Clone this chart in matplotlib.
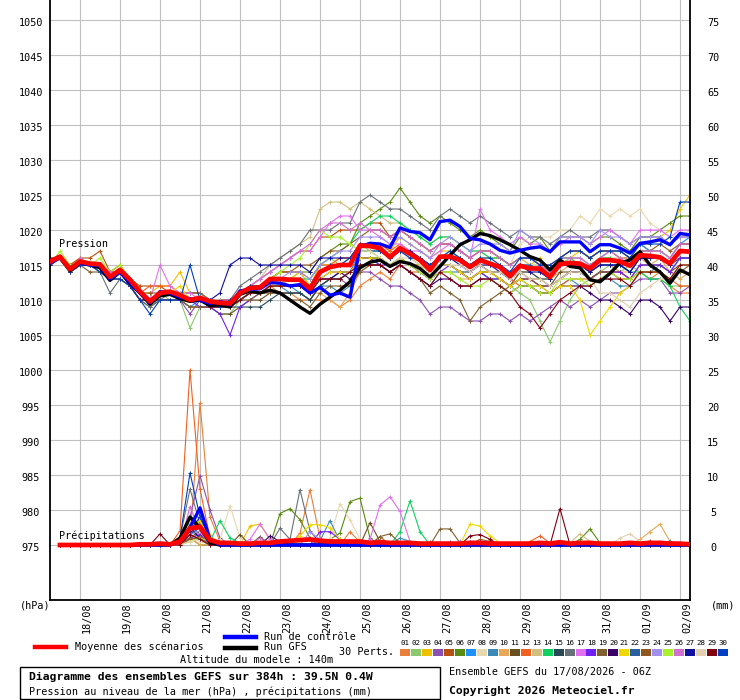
import matplotlib
matplotlib.use('Agg')
import matplotlib.pyplot as plt
import matplotlib.transforms as mtransforms
from matplotlib.lines import Line2D
from matplotlib.patches import Rectangle

plt.rcParams['font.family'] = ['DejaVu Sans Mono']

# forecast steps (hours from 17/08 06Z), 6-hourly up to 384h
hours = list(range(0, 385, 6))
day_hours = list(range(18, 385, 24))
day_labels = ['18/08', '19/08', '20/08', '21/08', '22/08', '23/08', '24/08', '25/08',
              '26/08', '27/08', '28/08', '29/08', '30/08', '31/08', '01/09', '02/09']
p_levels = list(range(975, 1051, 5))
mm_labels = [str(v) for v in range(0, 76, 5)]

# ensemble mean, control run and GFS run (sea level pressure, hPa)
mean_p = [1015.5, 1016.2, 1014.4, 1015.5, 1015.2, 1015.1, 1013.3, 1014.3, 1012.9,
          1011.2, 1009.8, 1011.0, 1011.2, 1010.7, 1010.0, 1010.3, 1009.8, 1009.6, 1009.5, 1011.0, 1011.7, 1011.8,
          1013.0, 1013.0, 1012.9, 1012.9, 1011.6, 1014.0, 1014.7, 1015.0, 1015.0,
          1017.8, 1017.7, 1017.4, 1016.1, 1017.4, 1016.6, 1015.7, 1014.3, 1016.2, 1016.2,
          1015.7, 1014.7, 1015.7, 1015.2, 1014.7, 1013.4, 1014.9, 1014.5, 1014.5, 1013.3,
          1015.1, 1015.3, 1015.2, 1014.5, 1015.7, 1015.7, 1015.5, 1014.9, 1016.4, 1016.3,
          1016.1, 1015.2, 1017.0, 1016.9]
ctrl_p = [1015.3, 1016.0, 1014.6, 1015.3, 1015.0, 1014.9, 1013.0, 1014.0, 1012.5,
          1011.0, 1009.6, 1011.2, 1011.0, 1010.4, 1010.2, 1010.0, 1009.5, 1009.8, 1009.3, 1011.3, 1011.5, 1011.6,
          1012.5, 1012.4, 1012.0, 1012.2, 1011.0, 1011.8, 1010.7, 1011.0, 1010.4,
          1017.6, 1018.1, 1018.0, 1017.5, 1020.3, 1019.8, 1019.6, 1018.6, 1021.2, 1021.4,
          1020.5, 1018.8, 1018.6, 1018.0, 1017.1, 1016.7, 1017.1, 1017.4, 1017.6, 1016.9,
          1018.3, 1018.3, 1018.3, 1016.9, 1017.9, 1017.9, 1017.4, 1016.7, 1018.1, 1018.3,
          1018.6, 1017.9, 1019.5, 1019.3]
gfs_p = [1015.6, 1016.0, 1014.2, 1015.3, 1015.0, 1014.6, 1012.8, 1014.0, 1012.4,
         1011.0, 1009.4, 1010.6, 1010.8, 1010.2, 1009.8, 1010.0, 1009.2, 1009.3, 1009.0, 1010.8, 1011.3, 1011.0,
         1011.4, 1011.0, 1010.0, 1009.0, 1008.1, 1009.4, 1010.4, 1011.4, 1012.6,
         1014.6, 1015.4, 1015.7, 1014.8, 1015.5, 1015.2, 1014.5, 1013.3, 1014.8, 1016.4,
         1017.9, 1018.6, 1019.5, 1019.2, 1018.6, 1017.9, 1017.1, 1016.2, 1015.7, 1014.3,
         1015.7, 1014.8, 1014.6, 1012.9, 1012.6, 1013.8, 1015.3, 1015.7, 1016.9, 1015.0,
         1014.0, 1012.4, 1014.3, 1013.6]

# 30 perturbations (hPa)
pres01 = [1015, 1016, 1014, 1015, 1015, 1015, 1013, 1014, 1013,
          1011, 1010, 1011, 1011, 1010, 1010, 1010, 1009, 1009, 1009, 1010, 1011, 1011,
          1012, 1011, 1011, 1010, 1010, 1010, 1010, 1009, 1010,
          1012, 1013, 1014, 1013, 1015, 1014, 1014, 1013, 1015, 1015,
          1014, 1013, 1014, 1014, 1013, 1012, 1013, 1013, 1012, 1012,
          1013, 1014, 1014, 1013, 1014, 1014, 1013, 1013, 1014, 1013,
          1014, 1012, 1011, 1011]
pres02 = [1015, 1016, 1015, 1015, 1015, 1015, 1014, 1014, 1013,
          1011, 1010, 1011, 1010, 1010, 1006, 1009, 1009, 1008, 1008, 1010, 1011, 1012,
          1013, 1012, 1013, 1014, 1012, 1015, 1016, 1015, 1016,
          1018, 1017, 1017, 1016, 1017, 1016, 1015, 1014, 1015, 1015,
          1014, 1013, 1014, 1013, 1013, 1012, 1011, 1010, 1007, 1004,
          1007, 1010, 1012, 1013, 1014, 1015, 1014, 1015, 1014, 1013,
          1013, 1012, 1012, 1012]
pres03 = [1015, 1016, 1015, 1016, 1015, 1015, 1014, 1015, 1013,
          1011, 1011, 1012, 1012, 1014, 1011, 1011, 1010, 1010, 1009, 1011, 1011, 1012,
          1013, 1013, 1013, 1014, 1012, 1015, 1015, 1016, 1016,
          1018, 1018, 1018, 1017, 1019, 1018, 1017, 1016, 1017, 1017,
          1016, 1015, 1016, 1016, 1016, 1015, 1016, 1015, 1016, 1014,
          1016, 1016, 1017, 1016, 1017, 1017, 1017, 1016, 1018, 1018,
          1019, 1020, 1023, 1025]
pres04 = [1015, 1016, 1014, 1015, 1015, 1015, 1013, 1014, 1012,
          1011, 1010, 1011, 1011, 1010, 1008, 1010, 1009, 1010, 1009, 1010, 1011, 1011,
          1012, 1012, 1012, 1012, 1011, 1013, 1013, 1013, 1012,
          1014, 1014, 1013, 1012, 1012, 1011, 1010, 1008, 1009, 1009,
          1008, 1007, 1007, 1008, 1008, 1007, 1008, 1007, 1008, 1009,
          1010, 1009, 1010, 1009, 1010, 1011, 1011, 1012, 1013, 1013,
          1013, 1011, 1011, 1012]
pres05 = [1015, 1016, 1015, 1016, 1016, 1017, 1014, 1015, 1013,
          1012, 1012, 1012, 1011, 1011, 1011, 1011, 1010, 1010, 1009, 1011, 1012, 1013,
          1014, 1015, 1016, 1017, 1017, 1019, 1019, 1020, 1020,
          1020, 1021, 1021, 1019, 1020, 1019, 1018, 1017, 1018, 1018,
          1017, 1016, 1017, 1017, 1016, 1015, 1016, 1016, 1015, 1014,
          1016, 1017, 1017, 1016, 1017, 1017, 1016, 1016, 1018, 1017,
          1017, 1016, 1018, 1018]
pres06 = [1015, 1016, 1015, 1015, 1015, 1015, 1013, 1014, 1013,
          1011, 1010, 1011, 1011, 1011, 1010, 1010, 1010, 1010, 1009, 1011, 1012, 1012,
          1013, 1014, 1014, 1014, 1014, 1016, 1017, 1018, 1018,
          1021, 1022, 1023, 1024, 1026, 1024, 1022, 1021, 1022, 1021,
          1020, 1019, 1020, 1019, 1018, 1017, 1019, 1018, 1019, 1017,
          1019, 1019, 1019, 1018, 1019, 1019, 1018, 1017, 1019, 1019,
          1020, 1021, 1022, 1022]
pres07 = [1015, 1016, 1014, 1015, 1015, 1015, 1013, 1014, 1012,
          1011, 1010, 1011, 1011, 1010, 1009, 1010, 1009, 1009, 1009, 1010, 1011, 1011,
          1012, 1012, 1012, 1011, 1010, 1012, 1013, 1013, 1014,
          1017, 1017, 1017, 1016, 1017, 1017, 1016, 1015, 1016, 1017,
          1016, 1015, 1016, 1015, 1015, 1014, 1015, 1015, 1014, 1013,
          1015, 1016, 1016, 1015, 1016, 1017, 1017, 1016, 1018, 1017,
          1017, 1016, 1018, 1019]
pres08 = [1015, 1016, 1014, 1015, 1015, 1015, 1013, 1014, 1013,
          1011, 1010, 1011, 1011, 1011, 1010, 1011, 1010, 1010, 1009, 1011, 1011, 1012,
          1013, 1013, 1013, 1013, 1012, 1014, 1015, 1015, 1015,
          1017, 1018, 1017, 1016, 1018, 1017, 1016, 1015, 1016, 1017,
          1017, 1016, 1017, 1017, 1016, 1015, 1018, 1019, 1019, 1019,
          1020, 1020, 1022, 1021, 1023, 1022, 1023, 1022, 1023, 1021,
          1020, 1019, 1019, 1020]
pres09 = [1016, 1016, 1015, 1015, 1015, 1015, 1013, 1014, 1013,
          1011, 1010, 1011, 1011, 1011, 1010, 1010, 1009, 1009, 1009, 1010, 1011, 1011,
          1012, 1012, 1011, 1011, 1010, 1012, 1012, 1011, 1012,
          1016, 1016, 1015, 1014, 1015, 1014, 1013, 1012, 1014, 1014,
          1014, 1013, 1014, 1013, 1013, 1012, 1013, 1012, 1012, 1011,
          1012, 1013, 1012, 1012, 1013, 1013, 1012, 1012, 1014, 1014,
          1015, 1014, 1016, 1016]
pres10 = [1015, 1016, 1014, 1015, 1015, 1015, 1013, 1014, 1013,
          1011, 1010, 1011, 1011, 1011, 1010, 1010, 1010, 1010, 1009, 1011, 1011, 1012,
          1012, 1013, 1012, 1012, 1011, 1011, 1010, 1009, 1011,
          1014, 1015, 1015, 1014, 1015, 1014, 1014, 1013, 1014, 1014,
          1013, 1013, 1014, 1014, 1013, 1012, 1014, 1014, 1013, 1013,
          1014, 1015, 1015, 1014, 1015, 1015, 1014, 1014, 1016, 1015,
          1016, 1014, 1013, 1014]
pres11 = [1015, 1016, 1014, 1015, 1015, 1014, 1013, 1013, 1012,
          1010, 1009, 1010, 1010, 1010, 1009, 1009, 1009, 1008, 1008, 1009, 1010, 1010,
          1011, 1011, 1011, 1011, 1010, 1012, 1013, 1013, 1014,
          1016, 1016, 1016, 1015, 1016, 1015, 1014, 1013, 1015, 1015,
          1014, 1013, 1014, 1014, 1013, 1012, 1014, 1013, 1013, 1012,
          1014, 1014, 1014, 1013, 1014, 1014, 1014, 1013, 1015, 1015,
          1015, 1014, 1015, 1015]
pres12 = [1015, 1016, 1014, 1015, 1015, 1015, 1013, 1014, 1013,
          1011, 1012, 1012, 1012, 1011, 1011, 1011, 1010, 1010, 1010, 1011, 1012, 1012,
          1013, 1014, 1014, 1014, 1013, 1015, 1015, 1016, 1016,
          1018, 1018, 1018, 1017, 1018, 1017, 1016, 1015, 1016, 1016,
          1016, 1015, 1015, 1014, 1014, 1013, 1012, 1012, 1011, 1011,
          1012, 1013, 1013, 1013, 1014, 1014, 1014, 1013, 1014, 1014,
          1014, 1013, 1012, 1012]
pres13 = [1015, 1016, 1014, 1015, 1015, 1015, 1013, 1014, 1013,
          1011, 1010, 1011, 1011, 1011, 1010, 1010, 1010, 1010, 1010, 1011, 1012, 1013,
          1015, 1016, 1017, 1018, 1019, 1023, 1024, 1024, 1023,
          1024, 1023, 1022, 1021, 1021, 1020, 1019, 1018, 1019, 1019,
          1018, 1017, 1017, 1016, 1016, 1015, 1016, 1015, 1015, 1014,
          1015, 1016, 1016, 1015, 1016, 1016, 1016, 1015, 1017, 1017,
          1017, 1016, 1017, 1017]
pres14 = [1015, 1016, 1014, 1015, 1015, 1015, 1013, 1014, 1013,
          1011, 1010, 1011, 1011, 1011, 1010, 1010, 1010, 1010, 1009, 1011, 1012, 1012,
          1013, 1013, 1013, 1013, 1013, 1015, 1016, 1017, 1018,
          1020, 1021, 1022, 1022, 1021, 1020, 1019, 1018, 1019, 1019,
          1018, 1017, 1017, 1016, 1016, 1015, 1016, 1016, 1015, 1014,
          1016, 1016, 1015, 1015, 1016, 1016, 1015, 1014, 1014, 1013,
          1013, 1012, 1009, 1007]
pres15 = [1015, 1016, 1014, 1015, 1015, 1015, 1013, 1014, 1012,
          1011, 1010, 1011, 1011, 1010, 1010, 1010, 1009, 1009, 1009, 1009, 1009, 1009,
          1010, 1011, 1011, 1011, 1010, 1012, 1013, 1014, 1014,
          1016, 1016, 1016, 1015, 1016, 1015, 1015, 1014, 1015, 1015,
          1014, 1014, 1015, 1014, 1014, 1013, 1014, 1014, 1013, 1013,
          1015, 1015, 1015, 1014, 1015, 1015, 1015, 1014, 1016, 1016,
          1016, 1015, 1016, 1016]
pres16 = [1015, 1016, 1014, 1015, 1015, 1014, 1011, 1013, 1012,
          1010, 1009, 1010, 1011, 1011, 1011, 1011, 1010, 1010, 1010, 1012, 1013, 1014,
          1015, 1016, 1017, 1018, 1020, 1020, 1020, 1021, 1021,
          1024, 1025, 1024, 1023, 1023, 1022, 1021, 1020, 1022, 1023,
          1022, 1021, 1022, 1021, 1020, 1019, 1020, 1019, 1019, 1018,
          1019, 1020, 1019, 1019, 1020, 1020, 1019, 1018, 1019, 1019,
          1019, 1018, 1019, 1019]
pres17 = [1015, 1016, 1015, 1015, 1015, 1015, 1014, 1014, 1013,
          1011, 1010, 1015, 1012, 1011, 1011, 1010, 1010, 1010, 1009, 1011, 1012, 1013,
          1014, 1015, 1016, 1017, 1017, 1019, 1021, 1022, 1022,
          1020, 1020, 1019, 1018, 1018, 1017, 1017, 1016, 1017, 1018,
          1017, 1016, 1023, 1020, 1019, 1018, 1019, 1018, 1018, 1017,
          1018, 1019, 1019, 1018, 1019, 1020, 1019, 1018, 1020, 1020,
          1020, 1019, 1020, 1020]
pres18 = [1015, 1016, 1014, 1015, 1015, 1015, 1013, 1014, 1012,
          1011, 1010, 1010, 1010, 1010, 1010, 1009, 1009, 1008, 1005, 1009, 1010, 1011,
          1012, 1012, 1012, 1012, 1011, 1013, 1014, 1014, 1014,
          1016, 1016, 1015, 1015, 1016, 1015, 1014, 1013, 1014, 1015,
          1014, 1013, 1014, 1013, 1013, 1012, 1013, 1013, 1012, 1012,
          1013, 1014, 1014, 1013, 1014, 1014, 1014, 1013, 1015, 1015,
          1015, 1014, 1016, 1016]
pres19 = [1015, 1016, 1014, 1015, 1014, 1014, 1013, 1013, 1012,
          1010, 1010, 1010, 1010, 1010, 1009, 1009, 1009, 1009, 1009, 1010, 1010, 1011,
          1011, 1011, 1010, 1010, 1009, 1011, 1012, 1012, 1012,
          1014, 1015, 1015, 1014, 1015, 1014, 1013, 1011, 1012, 1011,
          1010, 1007, 1009, 1010, 1011, 1012, 1013, 1013, 1012, 1012,
          1013, 1014, 1014, 1013, 1014, 1014, 1013, 1013, 1014, 1014,
          1014, 1013, 1014, 1015]
pres20 = [1015, 1016, 1014, 1015, 1015, 1015, 1013, 1014, 1013,
          1011, 1010, 1011, 1011, 1010, 1010, 1010, 1009, 1009, 1009, 1010, 1011, 1011,
          1012, 1012, 1012, 1012, 1011, 1013, 1013, 1014, 1013,
          1015, 1015, 1015, 1014, 1015, 1014, 1013, 1012, 1013, 1013,
          1012, 1012, 1013, 1013, 1012, 1011, 1012, 1012, 1011, 1011,
          1012, 1012, 1012, 1011, 1010, 1010, 1009, 1008, 1010, 1010,
          1009, 1007, 1009, 1009]
pres21 = [1015, 1016, 1014, 1015, 1015, 1015, 1014, 1014, 1013,
          1011, 1010, 1011, 1011, 1012, 1010, 1010, 1010, 1009, 1009, 1010, 1011, 1011,
          1012, 1012, 1012, 1012, 1011, 1013, 1014, 1014, 1014,
          1016, 1016, 1016, 1015, 1016, 1015, 1015, 1014, 1015, 1015,
          1014, 1013, 1014, 1014, 1013, 1012, 1013, 1012, 1012, 1011,
          1012, 1012, 1010, 1005, 1007, 1009, 1011, 1012, 1014, 1014,
          1014, 1013, 1015, 1015]
pres22 = [1015, 1016, 1014, 1015, 1015, 1015, 1013, 1014, 1012,
          1011, 1010, 1011, 1011, 1011, 1010, 1010, 1010, 1009, 1009, 1010, 1011, 1012,
          1013, 1013, 1013, 1013, 1012, 1014, 1015, 1015, 1015,
          1017, 1017, 1017, 1016, 1017, 1017, 1016, 1015, 1016, 1016,
          1016, 1015, 1016, 1015, 1015, 1014, 1015, 1015, 1014, 1013,
          1015, 1015, 1015, 1014, 1015, 1015, 1015, 1014, 1016, 1016,
          1016, 1015, 1017, 1017]
pres23 = [1016, 1016, 1015, 1015, 1015, 1015, 1014, 1014, 1013,
          1011, 1011, 1011, 1011, 1011, 1010, 1010, 1010, 1010, 1010, 1011, 1012, 1012,
          1013, 1014, 1014, 1015, 1015, 1016, 1017, 1017, 1018,
          1019, 1020, 1020, 1019, 1020, 1019, 1018, 1017, 1018, 1018,
          1017, 1016, 1017, 1017, 1016, 1015, 1016, 1016, 1015, 1015,
          1016, 1017, 1017, 1016, 1017, 1017, 1017, 1016, 1017, 1017,
          1018, 1017, 1018, 1018]
pres24 = [1015, 1016, 1014, 1015, 1015, 1015, 1013, 1014, 1013,
          1011, 1010, 1011, 1011, 1010, 1010, 1010, 1009, 1009, 1009, 1011, 1011, 1012,
          1013, 1013, 1014, 1014, 1013, 1015, 1016, 1017, 1017,
          1019, 1019, 1019, 1018, 1019, 1018, 1017, 1016, 1018, 1019,
          1018, 1017, 1018, 1018, 1018, 1017, 1020, 1019, 1018, 1017,
          1019, 1019, 1019, 1018, 1020, 1019, 1019, 1018, 1019, 1019,
          1019, 1018, 1019, 1019]
pres25 = [1015, 1017, 1015, 1015, 1015, 1016, 1014, 1015, 1013,
          1011, 1010, 1011, 1011, 1011, 1010, 1010, 1010, 1010, 1009, 1011, 1011, 1012,
          1013, 1014, 1015, 1016, 1018, 1020, 1019, 1019, 1018,
          1017, 1017, 1016, 1015, 1016, 1015, 1014, 1013, 1014, 1014,
          1013, 1012, 1012, 1013, 1012, 1011, 1012, 1012, 1011, 1011,
          1013, 1013, 1013, 1012, 1013, 1014, 1013, 1013, 1014, 1014,
          1014, 1013, 1015, 1015]
pres26 = [1015, 1016, 1014, 1016, 1015, 1015, 1014, 1014, 1013,
          1011, 1010, 1011, 1011, 1011, 1010, 1010, 1010, 1010, 1010, 1011, 1012, 1013,
          1014, 1015, 1016, 1017, 1018, 1020, 1021, 1021, 1020,
          1021, 1020, 1020, 1019, 1020, 1019, 1018, 1017, 1018, 1018,
          1017, 1016, 1017, 1017, 1016, 1015, 1016, 1016, 1015, 1014,
          1016, 1016, 1016, 1015, 1016, 1017, 1016, 1015, 1017, 1017,
          1017, 1016, 1018, 1018]
pres27 = [1015, 1016, 1014, 1015, 1015, 1015, 1013, 1014, 1013,
          1011, 1010, 1011, 1011, 1010, 1010, 1010, 1010, 1011, 1015, 1016, 1016, 1015,
          1015, 1015, 1015, 1015, 1014, 1016, 1016, 1016, 1016,
          1018, 1018, 1017, 1016, 1017, 1017, 1016, 1015, 1016, 1016,
          1015, 1014, 1015, 1015, 1014, 1013, 1015, 1014, 1014, 1013,
          1015, 1015, 1015, 1014, 1015, 1015, 1015, 1014, 1016, 1016,
          1016, 1015, 1017, 1017]
pres28 = [1015, 1016, 1014, 1015, 1015, 1015, 1013, 1014, 1013,
          1011, 1010, 1011, 1011, 1011, 1010, 1010, 1010, 1010, 1009, 1011, 1011, 1012,
          1013, 1013, 1013, 1013, 1012, 1014, 1015, 1015, 1015,
          1017, 1017, 1016, 1015, 1016, 1016, 1015, 1014, 1015, 1015,
          1015, 1014, 1015, 1014, 1014, 1013, 1014, 1013, 1013, 1012,
          1013, 1014, 1014, 1013, 1011, 1011, 1010, 1009, 1011, 1012,
          1013, 1013, 1015, 1015]
pres29 = [1015, 1016, 1014, 1015, 1015, 1015, 1013, 1014, 1012,
          1010, 1010, 1011, 1011, 1010, 1010, 1010, 1009, 1009, 1009, 1010, 1011, 1011,
          1012, 1012, 1012, 1012, 1011, 1013, 1013, 1013, 1014,
          1015, 1015, 1015, 1014, 1015, 1014, 1013, 1012, 1014, 1013,
          1012, 1012, 1013, 1013, 1012, 1011, 1009, 1008, 1006, 1008,
          1010, 1011, 1012, 1012, 1013, 1013, 1013, 1012, 1014, 1014,
          1014, 1013, 1015, 1015]
pres30 = [1015, 1016, 1014, 1015, 1015, 1014, 1013, 1013, 1012,
          1010, 1008, 1010, 1010, 1010, 1015, 1010, 1010, 1009, 1010, 1011, 1012, 1012,
          1013, 1013, 1013, 1013, 1012, 1014, 1015, 1015, 1016,
          1018, 1018, 1017, 1016, 1017, 1016, 1016, 1015, 1016, 1017,
          1016, 1015, 1016, 1016, 1015, 1014, 1016, 1016, 1015, 1015,
          1016, 1017, 1017, 1016, 1017, 1017, 1017, 1016, 1018, 1018,
          1018, 1019, 1024, 1024]

# 6-hourly precipitation (mm), only the non-zero steps {step index: mm}
mean_pr = {9: 0.1, 10: 0.1, 11: 0.2, 12: 0.1, 13: 0.5, 14: 2.4, 15: 2.6, 16: 0.7, 17: 0.3,
           18: 0.3, 19: 0.2, 20: 0.2, 21: 0.3, 22: 0.3, 23: 0.5, 24: 0.6, 25: 0.7, 26: 0.8,
           27: 0.6, 28: 0.5, 29: 0.5, 30: 0.5, 31: 0.5, 32: 0.3, 33: 0.4, 34: 0.3, 35: 0.3,
           36: 0.3, 37: 0.2, 38: 0.2, 39: 0.2, 40: 0.2, 41: 0.2, 42: 0.3, 43: 0.3, 44: 0.2,
           45: 0.2, 46: 0.2, 47: 0.2, 48: 0.2, 49: 0.3, 50: 0.2, 51: 0.4, 52: 0.2, 53: 0.3,
           54: 0.3, 55: 0.2, 56: 0.2, 57: 0.2, 58: 0.3, 59: 0.2, 60: 0.3, 61: 0.3, 62: 0.2,
           63: 0.2, 64: 0.1}
ctrl_pr = {13: 0.5, 14: 2.5, 15: 5.3, 16: 0.8}
gfs_pr = {13: 1.0, 14: 4.0, 15: 2.5, 16: 0.3}
prec01 = {14: 1.0, 15: 20.3, 16: 4.0, 17: 0.5, 25: 1.7, 26: 7.9, 27: 1.0, 30: 1.9, 31: 0.4}
prec02 = {14: 2.0, 15: 1.2, 16: 0.3, 53: 0.4}
prec03 = {14: 3.0, 15: 5.0, 16: 1.5, 20: 2.7, 21: 3.0, 22: 0.8}
prec04 = {14: 4.0, 15: 9.9, 16: 5.0, 17: 1.0, 27: 0.8, 28: 0.8}
prec05 = {14: 1.5, 15: 2.5, 16: 0.3, 33: 1.2, 38: 0.4}
prec06 = {14: 1.0, 23: 4.5, 24: 5.2, 25: 3.6, 26: 1.0, 27: 0.5, 28: 0.8, 29: 1.7, 30: 6.2,
          31: 6.7, 32: 1.0, 53: 0.8, 54: 2.3, 55: 0.3}
prec07 = {14: 2.0, 15: 1.0, 16: 0.3}
prec08 = {14: 1.0, 15: 0.5, 17: 0.8, 18: 5.6, 19: 1.0, 28: 1.0, 29: 5.9, 30: 3.6, 31: 0.8}
prec09 = {14: 3.0, 15: 1.5, 27: 0.6, 28: 3.5, 29: 0.5, 35: 1.0, 36: 0.5}
prec10 = {14: 1.0, 48: 0.5, 59: 0.8, 60: 1.9, 61: 3.0, 62: 0.5}
prec11 = {14: 1.5, 15: 3.0, 16: 0.5, 19: 1.5, 21: 1.2, 32: 3.2, 33: 0.5}
prec12 = {13: 2.0, 14: 25.0, 15: 8.0, 16: 1.0, 48: 0.5, 49: 1.3, 50: 0.3}
prec13 = {14: 1.2, 15: 0.8, 52: 0.3, 53: 1.6, 54: 0.5}
prec14 = {14: 1.5, 15: 2.0, 16: 0.5, 17: 3.5, 18: 1.0, 19: 0.3, 35: 1.9, 36: 6.3, 37: 1.9}
prec15 = {14: 1.0, 15: 0.8}
prec16 = {13: 1.0, 14: 8.0, 15: 3.0, 16: 0.5, 23: 2.4, 24: 0.8, 25: 7.9, 26: 2.0, 27: 0.3, 62: 0.6}
prec17 = {14: 2.5, 15: 1.5, 20: 0.8, 21: 3.0, 22: 0.8, 32: 0.8, 33: 5.7, 34: 6.9, 35: 4.8, 36: 0.5}
prec18 = {14: 1.0, 15: 1.5, 27: 1.9, 28: 1.9, 29: 0.8, 43: 0.3}
prec19 = {14: 1.0, 15: 2.0, 33: 1.2, 34: 1.6, 35: 0.3, 39: 2.3, 40: 2.3, 41: 0.3}
prec20 = {13: 1.0, 14: 2.5, 15: 1.0, 22: 1.3, 23: 0.5, 44: 0.6}
prec21 = {14: 2.0, 15: 3.5, 16: 0.8, 25: 1.3, 26: 2.9, 27: 2.9, 28: 2.5, 29: 0.8, 42: 3.0,
          43: 2.7, 44: 1.3, 45: 0.3}
prec22 = {14: 1.5, 15: 2.5, 16: 0.3, 40: 0.4}
prec23 = {14: 0.8, 15: 1.2, 43: 0.8, 44: 0.5, 55: 0.3, 60: 0.6}
prec24 = {14: 1.5, 15: 2.0, 26: 1.9, 27: 0.8, 41: 0.6}
prec25 = {14: 0.5, 15: 1.0, 16: 0.5}
prec26 = {14: 5.5, 15: 2.0, 21: 1.0, 61: 0.5}
prec27 = {14: 2.0, 15: 4.0, 16: 1.0, 42: 0.5, 43: 0.5}
prec28 = {14: 0.5, 15: 0.8, 57: 1.0, 58: 1.6, 59: 0.5}
prec29 = {11: 1.6, 14: 1.5, 15: 0.8, 42: 1.3, 43: 1.5, 44: 0.8, 51: 5.2}
prec30 = {13: 1.0, 14: 10.3, 15: 4.0, 16: 1.0}

pert_colors = ['#e8803a', '#8cc86e', '#f0c000', '#8a4fb0', '#b85010', '#5a8a10', '#1e90ff',
               '#e8d8b0', '#3a8ab8', '#e8a858', '#6a5020', '#f06020', '#d0c080', '#10d060',
               '#284858', '#687078', '#e070f0', '#7020f0', '#806030', '#380068', '#f0d800',
               '#2860a0', '#905820', '#a090f0', '#a8f030', '#d070d0', '#1010a0', '#e0d0b0',
               '#800010', '#0040c0']

pres_members = [pres01, pres02, pres03, pres04, pres05, pres06, pres07, pres08, pres09, pres10,
                pres11, pres12, pres13, pres14, pres15, pres16, pres17, pres18, pres19, pres20,
                pres21, pres22, pres23, pres24, pres25, pres26, pres27, pres28, pres29, pres30]
prec_members = [prec01, prec02, prec03, prec04, prec05, prec06, prec07, prec08, prec09, prec10,
                prec11, prec12, prec13, prec14, prec15, prec16, prec17, prec18, prec19, prec20,
                prec21, prec22, prec23, prec24, prec25, prec26, prec27, prec28, prec29, prec30]

for k, p in enumerate(pres_members + [mean_p, ctrl_p, gfs_p]):
    assert len(p) == len(hours), (k, len(p))

W, H = 740, 700
BASE = 975  # precipitation zero sits on the 975 hPa line, 1 mm per hPa


def fx(px):
    return px / W


def fy(py):
    return 1 - py / H


def prec_curve(d):
    # precipitation drawn from the first 6h step onwards
    return [BASE + d.get(i, 0.0) for i in range(1, len(hours))]


fig = plt.figure(figsize=(7.4, 7.0), dpi=100)
ax = fig.add_axes([fx(50), fy(600), 640 / W, 600 / H])
ax.set_xlim(0, 384)
ax.set_ylim(975 - 55 / 7, 1050 + 20 / 7)
ax.set_xticks(day_hours)
ax.set_yticks(p_levels)
ax.tick_params(length=0, labelbottom=False, labelleft=False)
ax.grid(True, color='#c0c0c0', lw=0.8)
ax.set_axisbelow(True)
ax.spines['top'].set_visible(False)
for s in ['left', 'right', 'bottom']:
    ax.spines[s].set_color('black')
    ax.spines[s].set_linewidth(1.3)

# perturbations
for p, d, c in zip(pres_members, prec_members, pert_colors):
    ax.plot(hours, p, color=c, lw=0.8, marker='+', ms=3, mew=0.7, zorder=2)
    ax.plot(hours[1:], prec_curve(d), color=c, lw=0.8, marker='+', ms=3, mew=0.7, zorder=2)

# GFS, control, mean
ax.plot(hours, gfs_p, color='black', lw=2.4, zorder=3)
ax.plot(hours[1:], prec_curve(gfs_pr), color='black', lw=2.4, zorder=3)
ax.plot(hours, ctrl_p, color='#0000ff', lw=2.4, zorder=4)
ax.plot(hours[1:], prec_curve(ctrl_pr), color='#0000ff', lw=2.4, zorder=4)
ax.plot(hours, mean_p, color='#ff0000', lw=3.4, zorder=5)
ax.plot(hours[1:], prec_curve(mean_pr), color='#ff0000', lw=3.4, zorder=5)

fs = 7.3
# axis labels (left hPa, right mm)
t_left = mtransforms.offset_copy(
    mtransforms.blended_transform_factory(fig.transFigure, ax.transData), fig=fig, y=-3, units='dots')
for lvl, mm in zip(p_levels, mm_labels):
    fig.text(fx(31), lvl, str(lvl), transform=t_left, ha='center', va='center', fontsize=fs)
    fig.text(fx(713), lvl, mm, transform=t_left, ha='center', va='center', fontsize=fs)

t_date = mtransforms.offset_copy(
    mtransforms.blended_transform_factory(ax.transData, fig.transFigure), fig=fig, x=7, units='dots')
for h, lab in zip(day_hours, day_labels):
    fig.text(h, fy(602), lab, transform=t_date, rotation=90, ha='center', va='top', fontsize=fs)

fig.text(fx(20), fy(606), '(hPa)', ha='left', va='center', fontsize=fs)
fig.text(fx(711), fy(606), '(mm)', ha='left', va='center', fontsize=fs)
fig.text(fx(59), fy(244), 'Pression', ha='left', va='center', fontsize=fs)
fig.text(fx(59), fy(536), 'Précipitations', ha='left', va='center', fontsize=fs)

# legend
fig.add_artist(Line2D([fx(35), fx(66)], [fy(647), fy(647)], color='#ff0000', lw=3.2))
fig.text(fx(75), fy(647), 'Moyenne des scénarios', ha='left', va='center', fontsize=fs)
fig.add_artist(Line2D([fx(225), fx(256)], [fy(637), fy(637)], color='#0000ff', lw=3.2))
fig.text(fx(264), fy(636.5), 'Run de contrôle', ha='left', va='center', fontsize=fs)
fig.add_artist(Line2D([fx(225), fx(256)], [fy(647.5), fy(647.5)], color='black', lw=3.2))
fig.text(fx(264), fy(647), 'Run GFS', ha='left', va='center', fontsize=fs)
fig.text(fx(180), fy(660), 'Altitude du modele : 140m', ha='left', va='center', fontsize=fs)
fig.text(fx(339), fy(652), '30 Perts.', ha='left', va='center', fontsize=fs)

for k, c in enumerate(pert_colors):
    x0 = 400 + 10.97 * k
    fig.text(fx(x0 + 5), fy(643), '%02d' % (k + 1), ha='center', va='center', fontsize=5.4)
    fig.add_artist(Rectangle((fx(x0), fy(656)), 10 / W, 7 / H, transform=fig.transFigure,
                             facecolor=c, edgecolor='none'))

# title box
fig.add_artist(Rectangle((fx(20), fy(699)), 420 / W, 32 / H, transform=fig.transFigure,
                         facecolor='none', edgecolor='black', lw=1))
fig.text(fx(29), fy(677), 'Diagramme des ensembles GEFS sur 384h : 39.5N 0.4W',
         ha='left', va='center', fontsize=8.2, fontweight='bold')
fig.text(fx(29), fy(692), 'Pression au niveau de la mer (hPa) , précipitations (mm)',
         ha='left', va='center', fontsize=fs)
fig.text(fx(449), fy(672), 'Ensemble GEFS du 17/08/2026 - 06Z', ha='left', va='center', fontsize=fs)
fig.text(fx(449), fy(691), 'Copyright 2026 Meteociel.fr', ha='left', va='center',
         fontsize=8.2, fontweight='bold')

fig.savefig('out.png', dpi=100)
